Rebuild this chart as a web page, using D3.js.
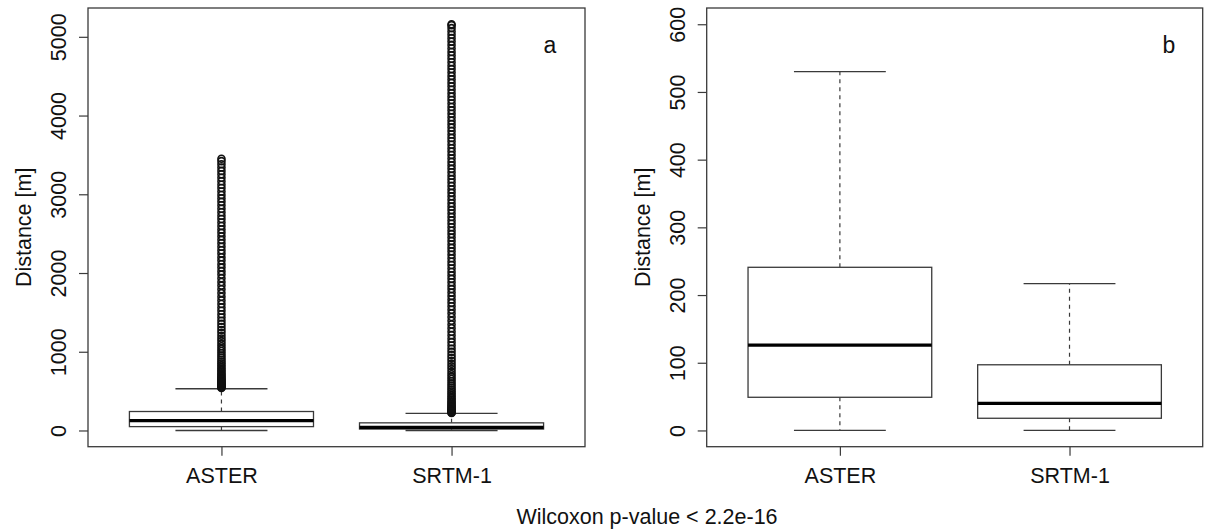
<!DOCTYPE html>
<html>
<head>
<meta charset="utf-8">
<script src="https://cdn.jsdelivr.net/npm/d3@7"></script>
<style>
    body { margin: 0; background: #fff; }
    text { font-family: "Liberation Sans", Arial, sans-serif; fill: #111; }
</style>
</head>
<body>
<svg id="scene" width="1211" height="530"></svg>
<script>
// categories and box statistics (m): lower whisker, q1, median, q3, upper whisker
const categories = ["ASTER", "SRTM-1"];
const lowerWhisker = [0, 0];
const q1 = [49, 18];
const medians = [126, 40];
const q3 = [241, 97];
const upperWhisker = [530, 217];

// outliers (dense columns of circles)
const asterOutliers = [
    541, 547, 553, 560, 566, 574, 581, 589, 598, 607, 617, 628, 640, 652, 665,
    679, 694, 710, 727, 745, 764, 784, 805, 827, 850, 874, 899, 925, 952, 980,
    1009, 1039, 1070, 1102, 1135, 1169, 1204, 1240, 1277, 1315, 1354, 1394,
    1435, 1477, 1520, 1563, 1607, 1652, 1698, 1745, 1793, 1840, 1886, 1933,
    1980, 2024, 2069, 2112, 2158, 2201, 2247, 2290, 2334, 2379, 2421, 2466,
    2510, 2553, 2597, 2641, 2686, 2728, 2772, 2817, 2860, 2904, 2948, 2991,
    3035, 3079, 3122, 3166, 3210, 3253, 3297, 3340, 3382, 3421, 3452
];
const srtmOutliers = [
    222, 227, 233, 240, 247, 255, 264, 274, 285, 297, 310, 324, 339, 355, 372,
    390, 409, 429, 450, 472, 495, 519, 544, 570, 597, 625, 654, 684, 715, 747,
    780, 814, 849, 885, 922, 960, 999, 1039, 1080, 1122, 1165, 1209, 1254,
    1300, 1347, 1394, 1441, 1488, 1533, 1577, 1621, 1664, 1708, 1751, 1796,
    1839, 1883, 1926, 1970, 2013, 2057, 2101, 2144, 2188, 2232, 2275, 2319,
    2363, 2406, 2450, 2494, 2537, 2581, 2625, 2668, 2712, 2756, 2799, 2843,
    2887, 2930, 2974, 3018, 3061, 3105, 3149, 3192, 3236, 3280, 3323, 3367,
    3411, 3454, 3498, 3542, 3585, 3629, 3673, 3716, 3760, 3804, 3847, 3891,
    3935, 3978, 4022, 4066, 4109, 4153, 4197, 4240, 4284, 4328, 4371, 4415,
    4459, 4502, 4546, 4590, 4633, 4677, 4721, 4764, 4808, 4852, 4895, 4939,
    4983, 5026, 5069, 5111, 5147, 5160
];
const outliers = [asterOutliers, srtmOutliers];

const ticksA = [0, 1000, 2000, 3000, 4000, 5000];
const ticksB = [0, 100, 200, 300, 400, 500, 600];
const yTitle = "Distance [m]";
const caption = "Wilcoxon p-value < 2.2e-16";

const svg = d3.select("#scene");
const FRAME = "#3a3a3a";
const FONT = "21.5px";

function drawPanel(opts) {
    const x = d3.scaleLinear().domain([0.42, 2.58]).range([opts.left, opts.right]);
    const y = d3.scaleLinear().domain(opts.yDomain).range([446.7, 8]);
    const g = svg.append("g");
    const halfBox = x(1.4) - x(1);
    const halfCap = x(1.2) - x(1);

    // y axis
    const yAxis = g.append("g")
        .attr("transform", `translate(${opts.left},0)`)
        .call(d3.axisLeft(y).tickValues(opts.ticks).tickSize(9).tickFormat(d3.format("d")));
    yAxis.select(".domain").remove();
    yAxis.selectAll("line").attr("stroke", FRAME).attr("stroke-width", 1.2);
    yAxis.selectAll("text")
        .attr("transform", "rotate(-90)")
        .attr("x", 0)
        .attr("y", -22)
        .attr("dy", 0)
        .attr("text-anchor", "middle")
        .style("font-size", FONT)
        .style("font-family", '"Liberation Sans", Arial, sans-serif')
        .attr("fill", "#222");

    // x axis
    const xAxis = g.append("g")
        .attr("transform", "translate(0,446.7)")
        .call(d3.axisBottom(x).tickValues([1, 2]).tickSize(9).tickFormat((d) => categories[d - 1]));
    xAxis.select(".domain").remove();
    xAxis.selectAll("line").attr("stroke", FRAME).attr("stroke-width", 1.2);
    xAxis.selectAll("text")
        .attr("y", 36)
        .attr("dy", 0)
        .style("font-size", FONT)
        .style("font-family", '"Liberation Sans", Arial, sans-serif')
        .attr("fill", "#222");

    // axis title
    g.append("text")
        .attr("transform", `translate(${opts.left - 57},${y.range().reduce((a, b) => (a + b) / 2)}) rotate(-90)`)
        .attr("text-anchor", "middle")
        .style("font-size", FONT)
        .text(yTitle);

    categories.forEach((c, i) => {
        const cx = x(i + 1);
        const b = g.append("g");
        // whiskers
        b.append("line")
            .attr("x1", cx).attr("x2", cx)
            .attr("y1", y(q3[i])).attr("y2", y(upperWhisker[i]))
            .attr("stroke", FRAME).attr("stroke-width", 1.2).attr("stroke-dasharray", "4,4");
        b.append("line")
            .attr("x1", cx).attr("x2", cx)
            .attr("y1", y(q1[i])).attr("y2", y(lowerWhisker[i]))
            .attr("stroke", FRAME).attr("stroke-width", 1.2).attr("stroke-dasharray", "4,4");
        [upperWhisker[i], lowerWhisker[i]].forEach((v) => {
            b.append("line")
                .attr("x1", cx - halfCap).attr("x2", cx + halfCap)
                .attr("y1", y(v)).attr("y2", y(v))
                .attr("stroke", FRAME).attr("stroke-width", 1.3);
        });
        // box
        b.append("rect")
            .attr("x", cx - halfBox)
            .attr("width", 2 * halfBox)
            .attr("y", y(q3[i]))
            .attr("height", y(q1[i]) - y(q3[i]))
            .attr("fill", "#fff")
            .attr("stroke", FRAME)
            .attr("stroke-width", 1.3);
        b.append("line")
            .attr("x1", cx - halfBox).attr("x2", cx + halfBox)
            .attr("y1", y(medians[i])).attr("y2", y(medians[i]))
            .attr("stroke", "#000").attr("stroke-width", 3.2);
        // outliers
        if (opts.showOutliers) {
            b.selectAll("circle")
                .data(outliers[i])
                .enter()
                .append("circle")
                .attr("cx", cx)
                .attr("cy", (d) => y(d))
                .attr("r", 3.5)
                .attr("fill", "none")
                .attr("stroke", "#111")
                .attr("stroke-width", 1.6);
        }
    });

    // frame
    g.append("rect")
        .attr("x", opts.left).attr("y", 8)
        .attr("width", opts.right - opts.left)
        .attr("height", 446.7 - 8)
        .attr("fill", "none")
        .attr("stroke", FRAME)
        .attr("stroke-width", 1.3);

    // panel letter
    g.append("text")
        .attr("x", opts.letterX).attr("y", 53)
        .attr("text-anchor", "middle")
        .style("font-size", "23px")
        .text(opts.letter);
}

drawPanel({ left: 88, right: 585, yDomain: [-206, 5366], ticks: ticksA, showOutliers: true, letter: "a", letterX: 550 });
drawPanel({ left: 706.7, right: 1202.7, yDomain: [-24, 624], ticks: ticksB, showOutliers: false, letter: "b", letterX: 1169 });

svg.append("text")
    .attr("x", 647).attr("y", 524)
    .attr("text-anchor", "middle")
    .style("font-size", FONT)
    .text(caption);
</script>
</body>
</html>
